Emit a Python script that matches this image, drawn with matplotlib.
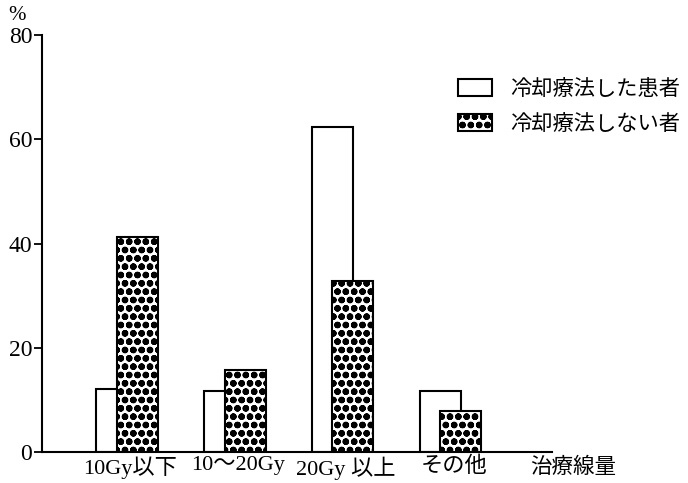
import numpy as np
import matplotlib.pyplot as plt
from matplotlib.patches import Patch

categories = ['10Gy以下', '10～20Gy', '20Gy 以上', 'その他']
cooled = [12.1, 11.8, 62.4, 11.8]      # 冷却療法した患者
not_cooled = [41.3, 15.7, 32.8, 7.8]   # 冷却療法しない者
series_names = ['冷却療法した患者', '冷却療法しない者']
y_ticks = [0, 20, 40, 60, 80]

plt.rcParams['font.family'] = ['Liberation Serif', 'Noto Sans CJK JP']
plt.rcParams['hatch.linewidth'] = 2.3

fig = plt.figure(figsize=(6.88, 4.83), dpi=100)
ax = fig.add_axes([0.061, 0.064, 0.741, 0.8635])

x = np.arange(len(categories))
bar_w = 0.38
off = 0.095

# 白い棒を先に、網点の棒を上に重ねる
ax.bar(x - off, cooled, bar_w, color='white', edgecolor='black', linewidth=1.5, zorder=2)
ax.bar(x + off, not_cooled, bar_w, color='white', edgecolor='black', linewidth=1.5,
       hatch='oo', zorder=3)

ax.set_xlim(-0.79, 3.94)
ax.set_ylim(0, 80)
ax.set_yticks(y_ticks)
ax.tick_params(axis='y', labelsize=17, length=6, width=1.3, pad=1)
ax.set_xticks(x + 0.03)
ax.set_xticklabels(categories, fontsize=16)
ax.tick_params(axis='x', length=0, pad=3)

for s in ['top', 'right']:
    ax.spines[s].set_visible(False)
for s in ['left', 'bottom']:
    ax.spines[s].set_linewidth(1.5)

fig.text(0.012, 0.967, '%', fontsize=15, ha='left', va='center')
fig.text(0.833, 0.031, '治療線量', fontsize=15.5, ha='center', va='center')

handles = [Patch(facecolor='white', edgecolor='black', linewidth=1.5),
           Patch(facecolor='white', edgecolor='black', linewidth=1.5, hatch='oo')]
fig.legend(handles, series_names, loc='upper left', bbox_to_anchor=(0.665, 0.836),
           frameon=False, fontsize=15.3, handlelength=1.6, handleheight=0.85,
           handletextpad=0.9, labelspacing=0.65, borderpad=0, borderaxespad=0)

fig.savefig('out.png', dpi=100)
